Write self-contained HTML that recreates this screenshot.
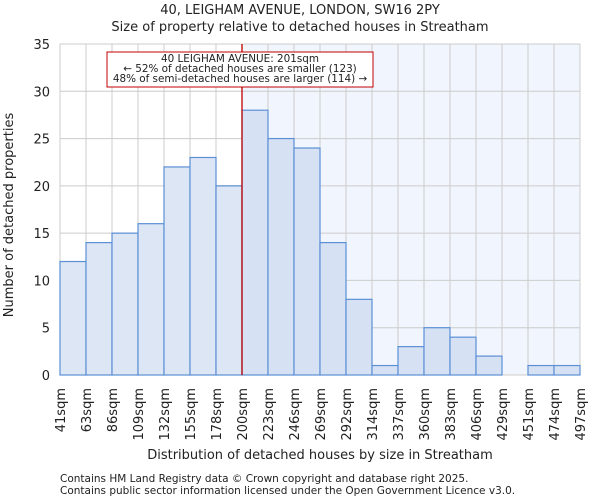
<!DOCTYPE html>
<html><head><meta charset="utf-8"><style>
body{margin:0;background:#fff;font-family:"DejaVu Sans","Liberation Sans",sans-serif;}
svg text{font-family:"DejaVu Sans","Liberation Sans",sans-serif;fill:#222;}
</style></head><body>
<svg id="c" width="600" height="500"></svg>
<script>
const binLabels=["41sqm","63sqm","86sqm","109sqm","132sqm","155sqm","178sqm","200sqm","223sqm","246sqm","269sqm","292sqm","314sqm","337sqm","360sqm","383sqm","406sqm","429sqm","451sqm","474sqm","497sqm"];
const counts=[12,14,15,16,22,23,20,28,25,24,14,8,1,3,5,4,2,0,1,1];
const yTicks=[0,5,10,15,20,25,30,35];
const markerBin=7;
const NS="http://www.w3.org/2000/svg";
const svg=document.getElementById('c');
const X0=60,X1=580,Y0=375,Y1=44,YMAX=35;
const bw=(X1-X0)/counts.length;
const xs=i=>X0+i*bw;
const ys=v=>Y0-(v/YMAX)*(Y0-Y1);
function el(t,a,txt){const e=document.createElementNS(NS,t);for(const k in a)e.setAttribute(k,a[k]);if(txt!==undefined)e.textContent=txt;svg.appendChild(e);return e;}
let e;
e=el('rect',{x:xs(markerBin),y:Y1,width:X1-xs(markerBin),height:Y0-Y1,fill:'#f1f5fd'});


for(let i=0;i<=counts.length;i++){e=el('line',{x1:xs(i),x2:xs(i),y1:Y1,y2:Y0,stroke:'#cccccc','stroke-width':1});

}
yTicks.forEach(t=>{e=el('line',{x1:X0,x2:X1,y1:ys(t),y2:ys(t),stroke:'#cccccc','stroke-width':1});


e=el('text',{x:X0-10,y:ys(t)+5,'text-anchor':'end','font-size':13},t);

});
counts.forEach((v,i)=>{if(v<=0)return;e=el('rect',{x:xs(i),y:ys(v),width:bw,height:Y0-ys(v),fill:i>=markerBin?'#d6e1f3':'#dde6f4',stroke:'#5b8fd6','stroke-width':1.2});

});
binLabels.forEach((l,i)=>{const x=xs(i);e=el('text',{x:0,y:0,'text-anchor':'end','font-size':13,transform:`translate(${x+5},${Y0+13}) rotate(-90)`},l);

});
e=el('line',{x1:xs(markerBin),x2:xs(markerBin),y1:Y1,y2:Y0,stroke:'#c00000','stroke-width':1.3});


e=el('rect',{x:107,y:52,width:266,height:35,fill:'#fff',stroke:'#c00000','stroke-width':1});


[["40 LEIGHAM AVENUE: 201sqm",62],["← 52% of detached houses are smaller (123)",72],["48% of semi-detached houses are larger (114) →",82]].forEach(a=>{e=el('text',{x:240,y:a[1],'text-anchor':'middle','font-size':10.4},a[0]);

});
e=el('text',{x:300,y:14,'text-anchor':'middle','font-size':13},"40, LEIGHAM AVENUE, LONDON, SW16 2PY");


e=el('text',{x:300,y:31,'text-anchor':'middle','font-size':13},"Size of property relative to detached houses in Streatham");


e=el('text',{x:0,y:0,'text-anchor':'middle','font-size':13,transform:'translate(13,215) rotate(-90)'},"Number of detached properties");


e=el('text',{x:320,y:459,'text-anchor':'middle','font-size':13},"Distribution of detached houses by size in Streatham");


e=el('text',{x:60,y:482,'font-size':10.5,fill:'#555'},"Contains HM Land Registry data © Crown copyright and database right 2025.");


e=el('text',{x:60,y:494,'font-size':10.5},"Contains public sector information licensed under the Open Government Licence v3.0.");


</script>
</body></html>
